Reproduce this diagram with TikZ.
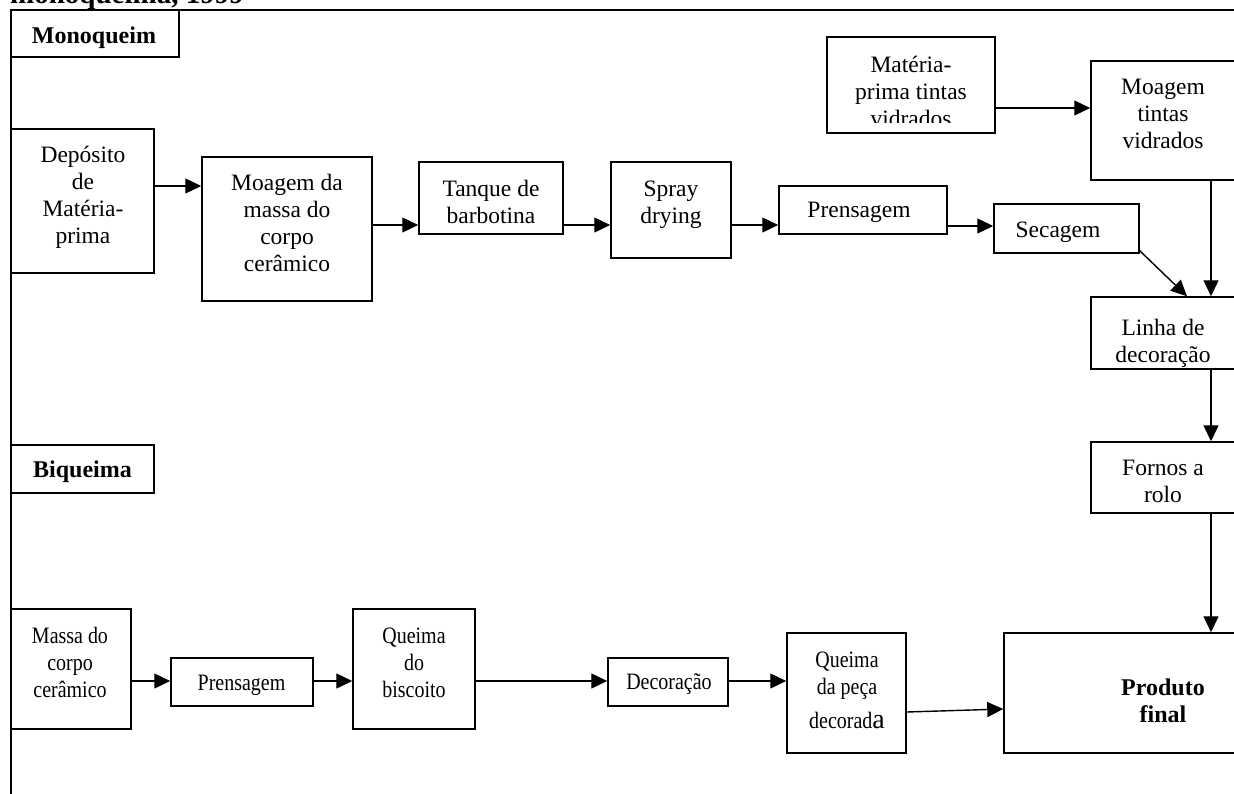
\documentclass[tikz,border=0pt]{standalone}
\usepackage{fontspec}
\setmainfont{Liberation Serif}
\newfontfamily\condfont[FakeStretch=0.85]{Liberation Serif}
\usetikzlibrary{arrows.meta}
\newcommand\fl{\rule{0pt}{17pt}}
\tikzset{
  box/.style={draw, line width=1.5pt, inner sep=0pt},
  txt/.style={inner sep=0pt, align=center, anchor=north, font=\rmfamily\fontsize{23.5}{27}\selectfont},
  ctxt/.style={inner sep=0pt, align=center, anchor=north, font=\condfont\fontsize{23.5}{27}\selectfont},
  btxt/.style={inner sep=0pt, align=center, anchor=north, font=\rmfamily\bfseries\fontsize{24}{27}\selectfont},
  arr/.style={line width=1.4pt, -{Triangle[length=16pt,width=15pt]}},
  frame/.style={line width=1.5pt}
}
\begin{document}
\begin{tikzpicture}[x=1pt,y=-1pt]
\path[use as bounding box] (0,0) rectangle (1234,793);
\clip (0,0) rectangle (1234,793);

% cut-off caption
\node[anchor=base west, inner sep=0pt, font=\rmfamily\bfseries\fontsize{29}{30}\selectfont] (title) at (10,3) {monoqueima, 1999};

% frame
\draw[frame] (11,800) -- (11,10) -- (1240,10);

% section labels
\node[box, minimum width=168pt, minimum height=47pt] (mono) at (95,33.5) {};
\node[btxt] (monot) at (94,43-17) {\fl Monoqueim};
\node[box, minimum width=143pt, minimum height=48pt] (bi) at (82.5,469) {};
\node[btxt] (bit) at (82.5,477.5-17) {\fl Biqueima};

% upper row
\node[box, minimum width=143pt, minimum height=144pt] (dep) at (82.5,201) {};
\node[txt] (dept) at (83,162-17) {\fl Depósito\\de\\Matéria-\\prima};
\node[box, minimum width=170pt, minimum height=144pt] (moag) at (287,229) {};
\node[txt] (moagt) at (287,190-17) {\fl Moagem da\\massa do\\corpo\\cerâmico};
\node[box, minimum width=144pt, minimum height=72pt] (tanq) at (491,198) {};
\node[txt] (tanqt) at (491,196-17) {\fl Tanque de\\barbotina};
\node[box, minimum width=120pt, minimum height=96pt] (spray) at (671,210) {};
\node[txt] (sprayt) at (671,196-17) {\fl Spray\\drying};
\node[box, minimum width=168pt, minimum height=48pt] (prens) at (863,210) {};
\node[txt] (prenst) at (859,217-17) {\fl Prensagem};
\node[box, minimum width=145pt, minimum height=49pt] (sec) at (1066.5,228.5) {};
\node[txt] (sect) at (1058,237-17) {\fl Secagem};

\node[box, minimum width=168pt, minimum height=96pt] (matp) at (911,85) {};
\begin{scope}
\clip (827,37) rectangle (995,122);
\node[txt] (matpt) at (911,72-17) {\fl Matéria-\\prima tintas\\vidrados};
\end{scope}
\node[box, minimum width=145pt, minimum height=119pt] (moagT) at (1163.5,120.5) {};
\node[txt] (moagTt) at (1163,94-17) {\fl Moagem\\tintas\\vidrados};
\node[box, minimum width=145pt, minimum height=72pt] (linha) at (1163.5,333) {};
\node[txt] (linhat) at (1163,335-17) {\fl Linha de\\decoração};
\node[box, minimum width=145pt, minimum height=71pt] (fornos) at (1163.5,477.5) {};
\node[txt] (fornost) at (1163,475-17) {\fl Fornos a\\rolo};

% lower row
\node[box, minimum width=120pt, minimum height=120pt] (massa) at (71,669) {};
\node[ctxt] (massat) at (70,643-17) {\fl Massa do\\corpo\\cerâmico};
\node[box, minimum width=142pt, minimum height=48pt] (prensB) at (242,682) {};
\node[ctxt] (prensBt) at (241.5,690-17) {\fl Prensagem};
\node[box, minimum width=122pt, minimum height=120pt] (queima) at (414,669) {};
\node[ctxt] (queimat) at (414,643-17) {\fl Queima\\do\\biscoito};
\node[box, minimum width=120pt, minimum height=48pt] (decor) at (668,682) {};
\node[ctxt] (decort) at (669,689-17) {\fl Decoração};
\node[box, minimum width=119pt, minimum height=120pt] (queimaP) at (846.5,693) {};
\node[ctxt] (queimaPt) at (847,667-17) {\fl Queima\\da peça\\[7pt]decorad{\rmfamily\fontsize{28}{27}\selectfont a}};
\node[box, minimum width=318pt, minimum height=120pt] (produto) at (1163,693) {};
\node[btxt] (produtot) at (1163,695-17) {\fl Produto\\final};

% connector rows
\coordinate (rA) at (0,186);
\coordinate (rB) at (0,225);
\coordinate (rC) at (0,226);
\coordinate (rD) at (0,108);
\coordinate (rE) at (0,681);
\coordinate (vx) at (1211,0);
\coordinate (dx) at (1187,0);

\draw[arr] (dep.east |- rA) -- (moag.west |- rA);
\draw[arr] (moag.east |- rB) -- (tanq.west |- rB);
\draw[arr] (tanq.east |- rB) -- (spray.west |- rB);
\draw[arr] (spray.east |- rB) -- (prens.west |- rB);
\draw[arr] (prens.east |- rC) -- (sec.west |- rC);
\draw[arr] ([yshift=3pt]sec.south east) -- (linha.north -| dx);
\draw[arr] (matp.east |- rD) -- (moagT.west |- rD);
\draw[arr] (moagT.south -| vx) -- (linha.north -| vx);
\draw[arr] (linha.south -| vx) -- (fornos.north -| vx);
\draw[arr] (fornos.south -| vx) -- (produto.north -| vx);

\draw[arr] (massa.east |- rE) -- (prensB.west |- rE);
\draw[arr] (prensB.east |- rE) -- (queima.west |- rE);
\draw[arr] (queima.east |- rE) -- (decor.west |- rE);
\draw[arr] (decor.east |- rE) -- (queimaP.west |- rE);
\draw[arr] ([yshift=-19pt]queimaP.east) -- ([yshift=-16pt]produto.west);
\end{tikzpicture}
\end{document}
